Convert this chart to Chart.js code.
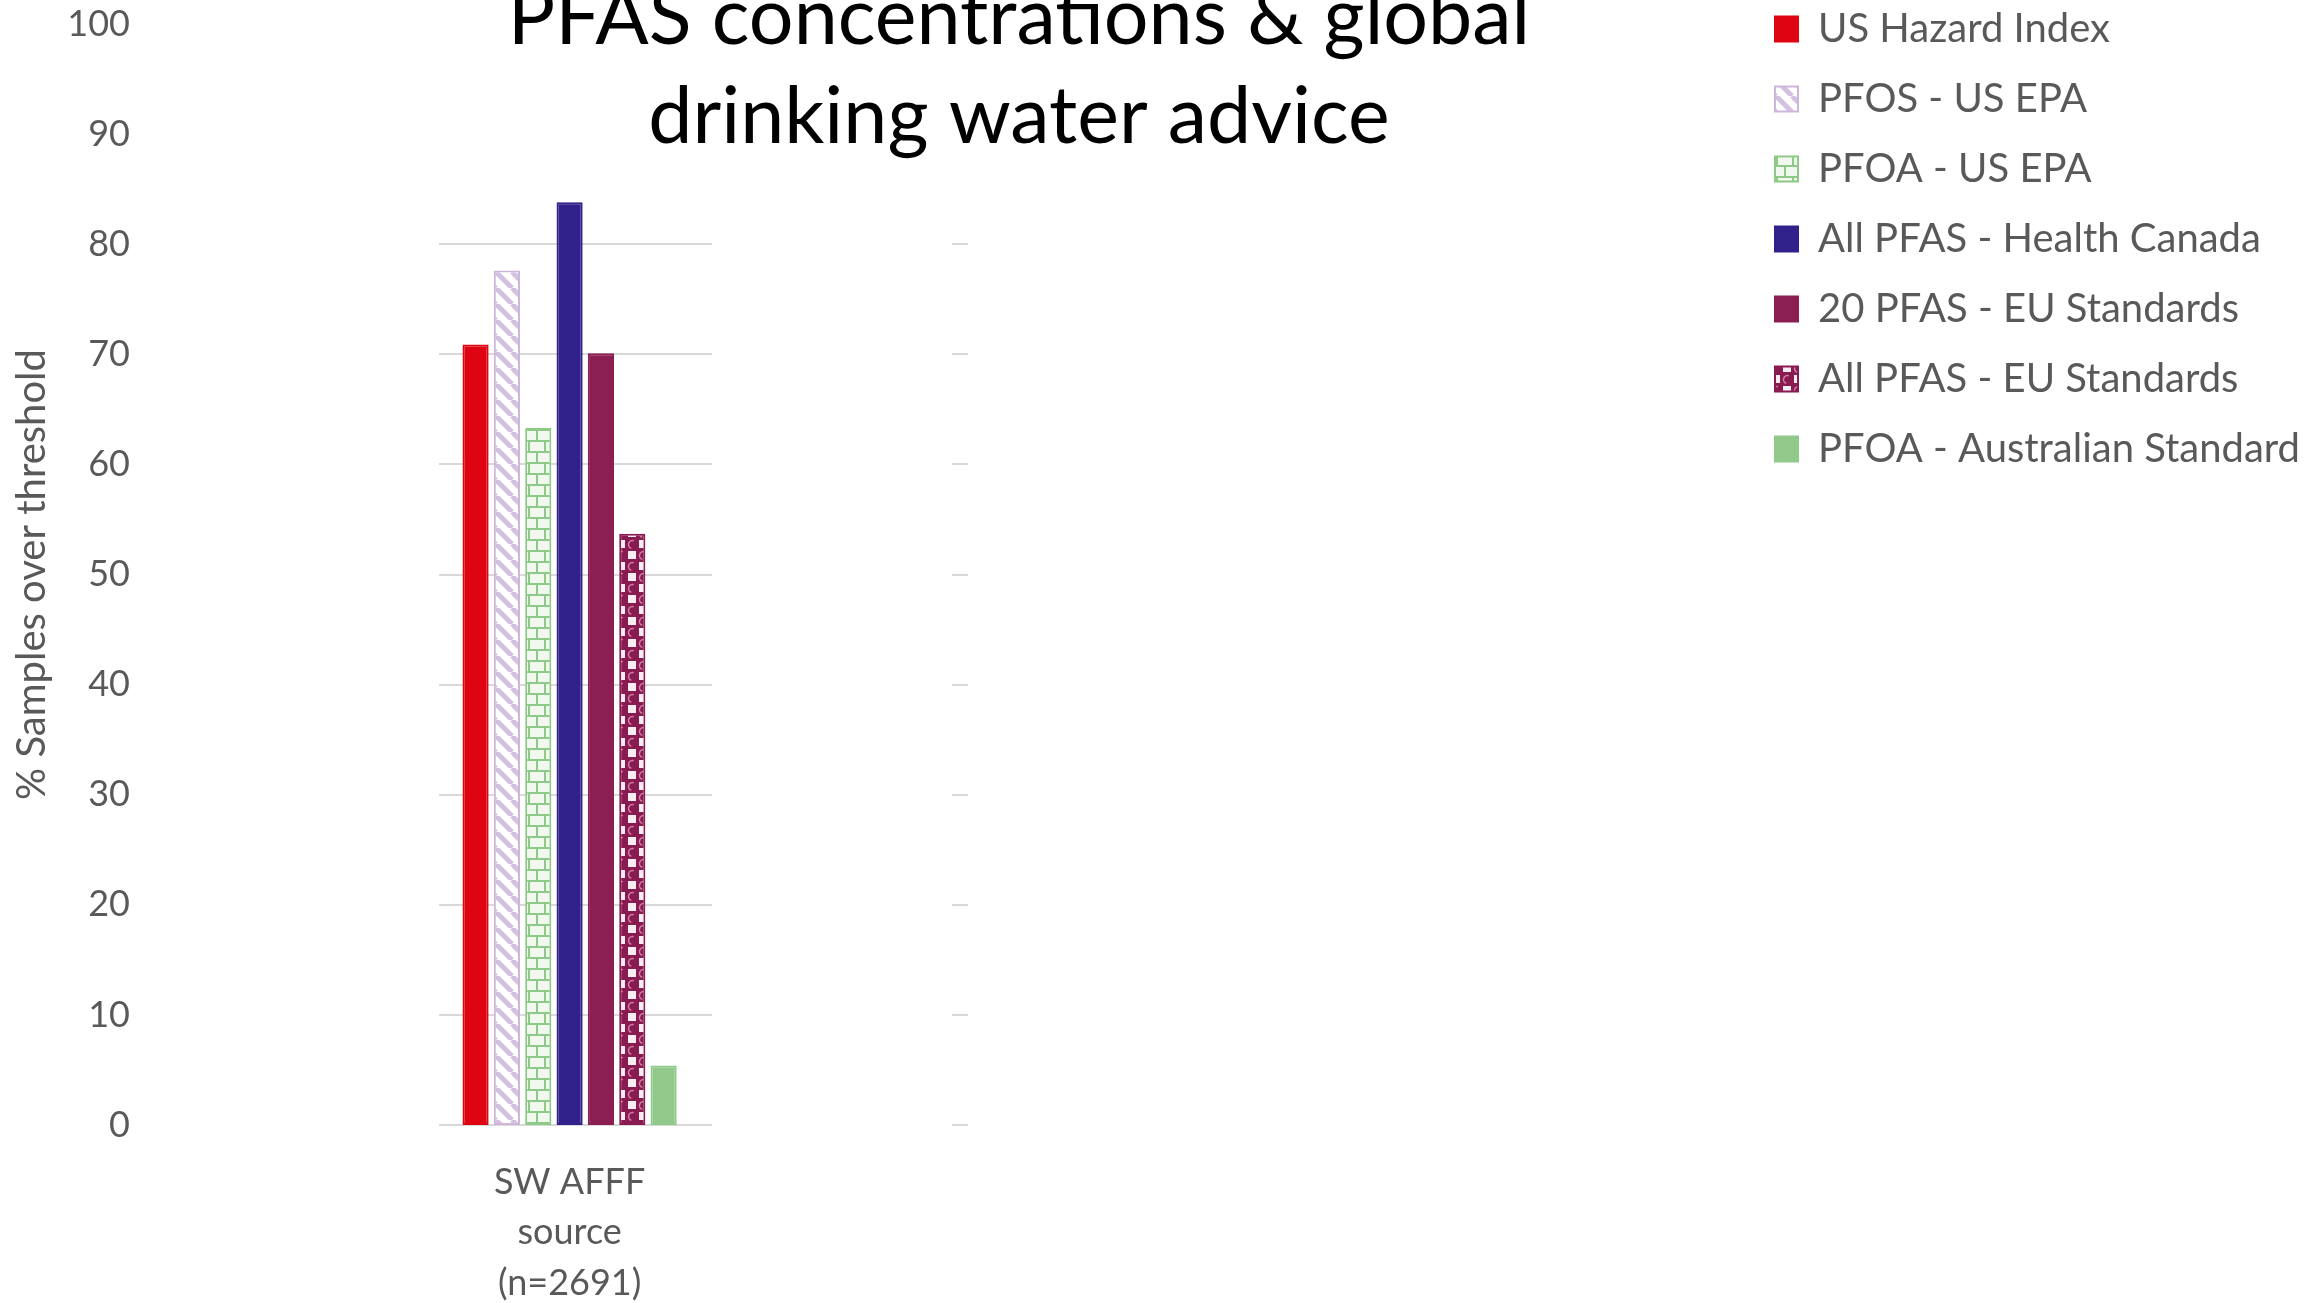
<!DOCTYPE html>
<html>
<head>
<meta charset="utf-8">
<title>PFAS concentrations &amp; global drinking water advice</title>
<script src="https://cdn.jsdelivr.net/npm/chart.js@4.4.1/dist/chart.umd.min.js"></script>
<style>
  html, body { margin: 0; padding: 0; background: #ffffff; }
  #wrap { width: 2317px; height: 1303px; position: relative; }
</style>
</head>
<body>
<div id="wrap"><canvas id="pfasChart"></canvas></div>
<script>
// x categories: only the first one carries bars, the rest are empty slots
const categories = [['SW AFFF', 'source', '(n=2691)'], '', '', '', ''];

// legend order
const seriesLabels = [
  'US Hazard Index',
  'PFOS - US EPA',
  'PFOA - US EPA',
  'All PFAS - Health Canada',
  '20 PFAS - EU Standards',
  'All PFAS - EU Standards',
  'PFOA - Australian Standard'
];

// % samples over threshold
const usHazardIndex = [70.9];
const pfosUsEpa = [77.6];
const pfoaUsEpa = [63.3];
const allPfasHealthCanada = [83.8];
const twentyPfasEu = [70.1];
const allPfasEu = [53.7];
const pfoaAustralian = [5.4];

// y axis ticks
const yTicks = [0, 10, 20, 30, 40, 50, 60, 70, 80, 90, 100];

const FONT = 'Lato, "Open Sans", sans-serif';
const TEXT_GREY = '#595959';
const GRID_GREY = '#d9d9d9';
const W = 2317;

const canvas = document.getElementById('pfasChart');
const ctx = canvas.getContext('2d');

/** diagonal "\" stripes on white */
function stripePattern(color, size, width) {
  const c = document.createElement('canvas');
  c.width = c.height = size;
  const g = c.getContext('2d');
  g.fillStyle = '#ffffff';
  g.fillRect(0, 0, size, size);
  g.strokeStyle = color;
  g.lineWidth = width;
  for (let k = -1; k <= 1; k++) {
    g.beginPath();
    g.moveTo(k * size, 0);
    g.lineTo(k * size + size, size);
    g.stroke();
  }
  return ctx.createPattern(c, 'repeat');
}

/** small brick wall */
function brickPattern(line, fill) {
  const w = 16, h = 22;
  const c = document.createElement('canvas');
  c.width = w; c.height = h;
  const g = c.getContext('2d');
  g.fillStyle = fill;
  g.fillRect(0, 0, w, h);
  g.strokeStyle = line;
  g.lineWidth = 2;
  g.beginPath();
  g.moveTo(0, 1); g.lineTo(w, 1);
  g.moveTo(0, 12); g.lineTo(w, 12);
  g.moveTo(1, 0); g.lineTo(1, 12);
  g.moveTo(9, 12); g.lineTo(9, h);
  g.stroke();
  return ctx.createPattern(c, 'repeat');
}

/** dark cells with small white squares and a soft highlight ring */
function checkerPattern(dark) {
  const s = 11;
  const c = document.createElement('canvas');
  c.width = c.height = 2 * s;
  const g = c.getContext('2d');
  g.fillStyle = dark;
  g.fillRect(0, 0, 2 * s, 2 * s);
  g.fillStyle = '#f6ecf1';
  g.fillRect(s + 1, 1, s - 3, s - 3);
  g.fillRect(1, s + 1, s - 3, s - 3);
  g.strokeStyle = 'rgba(230, 160, 195, 0.75)';
  g.lineWidth = 1.5;
  [[0, 0], [s, s]].forEach(([x, y]) => {
    g.beginPath();
    g.arc(x + s / 2, y + s / 2, s / 2 - 1.5, 0.6 * Math.PI, 1.6 * Math.PI);
    g.stroke();
  });
  return ctx.createPattern(c, 'repeat');
}

// horizontal gridlines are only visible in two pieces (rest hidden behind the slide's boxes)
const GRID_SEGMENTS = [[0, 273], [513, 529]];
const GRID_TOP = 80;

const partialGrid = {
  id: 'partialGrid',
  beforeDatasetsDraw(chart) {
    const { ctx, chartArea, scales: { y } } = chart;
    ctx.save();
    ctx.strokeStyle = GRID_GREY;
    ctx.lineWidth = 2;
    y.ticks.forEach(t => {
      if (t.value > GRID_TOP) return;
      const py = Math.round(y.getPixelForValue(t.value));
      GRID_SEGMENTS.forEach(([a, b]) => {
        ctx.beginPath();
        ctx.moveTo(chartArea.left + a, py);
        ctx.lineTo(chartArea.left + b, py);
        ctx.stroke();
      });
    });
    ctx.restore();
  }
};

// layout: plot starts at x=439, legend column starts at x=1743, title centred on x=1019
const LEGEND_FONT = 40, LEGEND_BOX = 23, LEGEND_PAD = 30, LEGEND_LEFT = 1743;
ctx.font = LEGEND_FONT + 'px ' + FONT;
const legendTextW = Math.max(...seriesLabels.map(s => ctx.measureText(s).width));
const legendW = Math.ceil(LEGEND_PAD + LEGEND_BOX + LEGEND_FONT / 2 + legendTextW + 12);
const padRight = W - LEGEND_LEFT - legendW;
const padLeft = padRight - (W - 2 * 1019);
const yAxisW = 439 - padLeft;

const seriesData = [usHazardIndex, pfosUsEpa, pfoaUsEpa, allPfasHealthCanada, twentyPfasEu, allPfasEu, pfoaAustralian];
const seriesFill = [
  '#de0411',
  stripePattern('#d4c0e0', 16, 5),
  brickPattern('#8dc987', '#f1f9ef'),
  '#31218a',
  '#8b1f52',
  checkerPattern('#8a1b50'),
  '#90c98a'
];
const seriesBorder = ['#de0411', '#cdb6da', '#8dc987', '#31218a', '#8b1f52', '#8a1b50', '#90c98a'];

Chart.defaults.font.family = FONT;

new Chart(ctx, {
  type: 'bar',
  data: {
    labels: categories,
    datasets: seriesLabels.map((label, i) => ({
      label,
      data: seriesData[i],
      backgroundColor: seriesFill[i],
      borderColor: seriesBorder[i],
      borderWidth: 2,
      borderSkipped: false,
      categoryPercentage: 0.84,
      barPercentage: 0.834
    }))
  },
  options: {
    responsive: true,
    maintainAspectRatio: false,
    animation: false,
    layout: { padding: { left: padLeft, right: padRight, top: -21, bottom: 0 } },
    plugins: {
      title: {
        display: true,
        text: ['PFAS concentrations & global', 'drinking water advice'],
        color: '#000000',
        font: { size: 79, weight: 'normal', lineHeight: 99 / 79 },
        padding: { top: -9.5, bottom: -143.5 }
      },
      legend: {
        position: 'right',
        align: 'start',
        labels: {
          boxWidth: LEGEND_BOX,
          boxHeight: 25,
          padding: LEGEND_PAD,
          color: TEXT_GREY,
          font: { size: LEGEND_FONT }
        }
      },
      tooltip: { enabled: false }
    },
    scales: {
      x: {
        grid: { display: false, drawTicks: false },
        border: { display: false },
        ticks: {
          color: TEXT_GREY,
          padding: 32,
          maxRotation: 0,
          autoSkip: false,
          font: { size: 36, lineHeight: 1.4 }
        },
        afterFit(scale) { scale.height = 178; }
      },
      y: {
        min: yTicks[0],
        max: yTicks[yTicks.length - 1],
        afterBuildTicks(scale) { scale.ticks = yTicks.map(v => ({ value: v })); },
        // labels sit far left of the plot: use an invisible tick length as the gap
        grid: { display: false, drawTicks: true, tickLength: 309 },
        border: { display: false },
        ticks: {
          color: TEXT_GREY,
          padding: 0,
          font: { size: 36 }
        },
        title: {
          display: true,
          text: '% Samples over threshold',
          color: TEXT_GREY,
          font: { size: 40, lineHeight: 1.2 },
          padding: { top: 32 - 24 - padLeft, bottom: 0 }
        },
        afterFit(scale) { scale.width = yAxisW; }
      }
    }
  },
  plugins: [partialGrid]
});
</script>
</body>
</html>
